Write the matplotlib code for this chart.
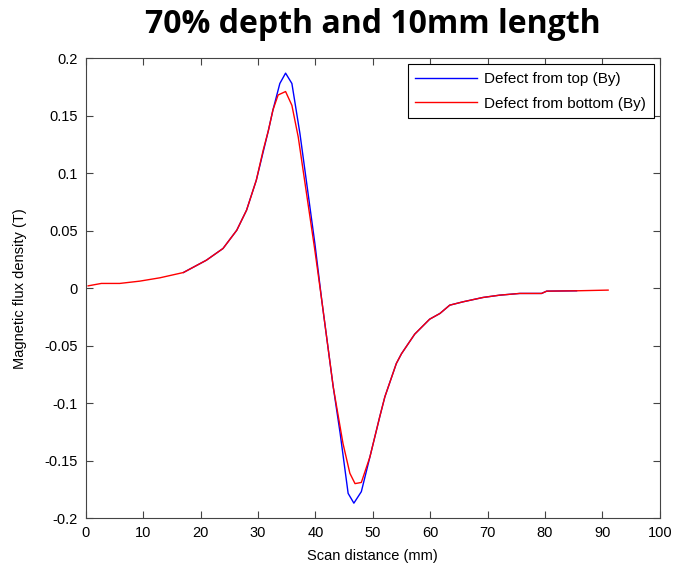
import matplotlib
matplotlib.use('Agg')
import matplotlib.pyplot as plt

plt.rcParams['axes.unicode_minus'] = False
plt.rcParams['font.family'] = ['Liberation Sans', 'DejaVu Sans']

# defect from top (By)
top_x = [17.0, 21.0, 23.9, 26.3, 28.0, 29.7, 31.8, 32.6, 33.8, 34.8, 35.9, 37.3, 39.9,
         41.1, 43.1, 44.3, 45.7, 46.7, 48.0, 49.5, 51.2, 52.1, 54.1, 55.0, 57.3, 59.9,
         61.7, 63.4, 65.7, 69.2, 72.1, 75.6, 79.4, 80.3, 85.5]
top_y = [0.0136, 0.0243, 0.0345, 0.0504, 0.0678, 0.0939, 0.137, 0.155, 0.178, 0.187, 0.178, 0.1345, 0.039,
         -0.0104, -0.0858, -0.126, -0.1785, -0.187, -0.177, -0.1467, -0.112, -0.0945, -0.0655, -0.057, -0.040, -0.027,
         -0.022, -0.0148, -0.0119, -0.0081, -0.0061, -0.0046, -0.0046, -0.0026, -0.0023]

# defect from bottom (By)
bot_x = [0.4, 2.7, 5.9, 9.4, 12.9, 17.0, 21.0, 23.9, 26.3, 28.0, 29.7, 30.9, 31.8, 32.6, 33.5,
         34.8, 35.9, 37.0, 39.9, 41.1, 43.1, 44.8, 46.0, 46.9, 48.0, 49.5, 51.2, 52.1, 54.1,
         55.0, 57.3, 59.9, 61.7, 63.4, 65.7, 69.2, 72.1, 75.6, 79.4, 80.3, 85.5, 91.0]
bot_y = [0.0020, 0.0041, 0.0041, 0.0061, 0.0090, 0.0136, 0.0243, 0.0345, 0.0504, 0.0678, 0.0939, 0.12, 0.137, 0.155, 0.168,
         0.171, 0.159, 0.1316, 0.033, -0.0104, -0.0858, -0.135, -0.161, -0.170, -0.169, -0.1467, -0.112, -0.0945, -0.0655,
         -0.057, -0.040, -0.027, -0.022, -0.0148, -0.0119, -0.0081, -0.0061, -0.0046, -0.0046, -0.0026, -0.0023, -0.0017]

x_ticks = [0, 10, 20, 30, 40, 50, 60, 70, 80, 90, 100]
y_ticks = [0.2, 0.15, 0.1, 0.05, 0, -0.05, -0.1, -0.15, -0.2]
y_labels = ['0.2', '0.15', '0.1', '0.05', '0', '-0.05', '-0.1', '-0.15', '-0.2']

fig = plt.figure(figsize=(6.76, 5.65), dpi=100)
ax = fig.add_axes([0.127, 0.083, 0.849, 0.814])

ax.plot(top_x, top_y, color='#0000ff', lw=1, label='Defect from top (By)')
ax.plot(bot_x, bot_y, color='#ff0000', lw=1, label='Defect from bottom (By)')

ax.set_xlim(0, 100)
ax.set_ylim(-0.2, 0.2)
ax.set_xticks(x_ticks)
ax.set_yticks(y_ticks)
ax.set_yticklabels(y_labels)
ax.tick_params(direction='in', top=True, right=True, labelsize=10.5, length=5,
               pad=6, color='#444444')
for s in ax.spines.values():
    s.set_color('#444444')

ax.set_xlabel('Scan distance (mm)', fontsize=10.5, labelpad=6)
ax.set_ylabel('Magnetic flux density (T)', fontsize=10.5, labelpad=12)

leg = ax.legend(loc='upper right', fontsize=11, fancybox=False, framealpha=1,
                edgecolor='black', borderaxespad=0.4, handlelength=4.0,
                handletextpad=0.5, labelspacing=0.7, borderpad=0.5)
leg.get_frame().set_linewidth(0.8)

fig.text(0.552, 0.956, '70% depth and 10mm length', ha='center', va='center',
         fontsize=23, fontweight='bold', family='Open Sans')

fig.savefig('out.png', dpi=100)
